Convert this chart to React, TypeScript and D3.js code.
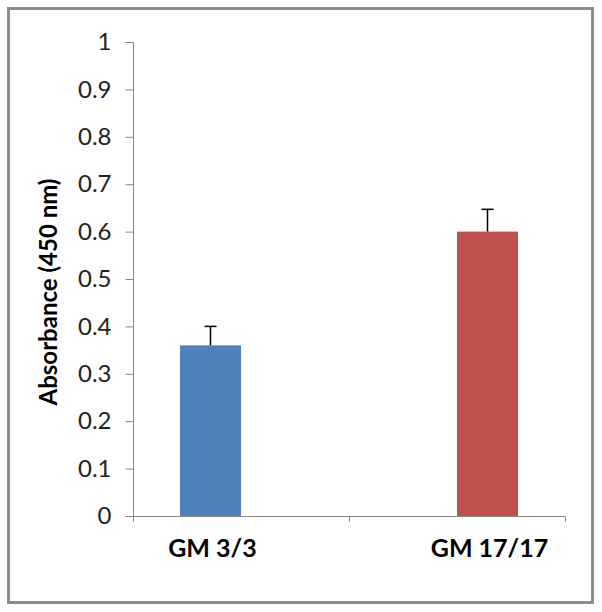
import React, { useEffect, useRef } from 'react';
import * as d3 from 'd3';

const categories = ['GM 3/3', 'GM 17/17'];
const series = ['GM 3/3', 'GM 17/17'];
const values = [0.36, 0.6];
const errors = [0.04, 0.047];
const colors = ['#4f81bd', '#c0504d'];
const yTicks = [0, 0.1, 0.2, 0.3, 0.4, 0.5, 0.6, 0.7, 0.8, 0.9, 1];

const App = () => {
  const ref = useRef<SVGSVGElement>(null);
  const width = 602;
  const height = 612;

  useEffect(() => {
    const svg = d3.select(ref.current);
    svg.selectAll('*').remove();

    const font = 'Lato, "Open Sans", sans-serif';

    // outer frame
    svg.append('rect')
      .attr('x', 8.5).attr('y', 8.5)
      .attr('width', 584).attr('height', 594)
      .attr('fill', 'white')
      .attr('stroke', '#8c8c8c')
      .attr('stroke-width', 3);

    const y = d3.scaleLinear().domain([0, 1]).range([516, 42]);
    const x = d3.scaleBand().domain(categories).range([133, 565]);
    // each series sits in its own slot inside the category
    const xs = d3.scaleBand().domain(series).range([0, x.bandwidth()]).paddingOuter(0.77);

    // y axis
    const yAxis = svg.append('g')
      .attr('transform', 'translate(133.5,0)')
      .call(d3.axisLeft(y).tickValues(yTicks).tickSize(8).tickPadding(14).tickFormat(d3.format('')));
    yAxis.select('.domain').attr('stroke', '#868686').attr('d', `M-8,${y(1) + 0.5}H0V${y(0)}`);
    yAxis.selectAll('line').attr('stroke', '#868686');
    yAxis.selectAll('text')
      .attr('font-family', font)
      .attr('font-size', 24)
      .attr('fill', '#222');

    // x axis
    const xAxis = svg.append('g').attr('transform', `translate(0,${y(0) + 0.5})`);
    xAxis.append('path')
      .attr('d', `M133.5,0H565.5V5`)
      .attr('fill', 'none')
      .attr('stroke', '#868686');
    xAxis.selectAll('.tk')
      .data(categories)
      .enter()
      .append('line')
      .attr('x1', d => (x(d) as number) + 0.5)
      .attr('x2', d => (x(d) as number) + 0.5)
      .attr('y1', 0).attr('y2', 5)
      .attr('stroke', '#868686');

    const bars = svg.append('g');
    categories.forEach((c, i) => {
      const bx = (x(c) as number) + (xs(series[i]) as number);
      const bw = xs.bandwidth();
      const cx = bx + bw / 2;
      bars.append('rect')
        .attr('x', bx).attr('y', y(values[i]))
        .attr('width', bw).attr('height', y(0) - y(values[i]))
        .attr('fill', colors[i]);
      bars.append('line')
        .attr('x1', cx).attr('x2', cx)
        .attr('y1', y(values[i])).attr('y2', y(values[i] + errors[i]))
        .attr('stroke', 'black').attr('stroke-width', 1.5);
      bars.append('line')
        .attr('x1', cx - 6).attr('x2', cx + 6)
        .attr('y1', y(values[i] + errors[i])).attr('y2', y(values[i] + errors[i]))
        .attr('stroke', 'black').attr('stroke-width', 1.5);
      svg.append('text')
        .attr('x', cx + 2).attr('y', 557)
        .attr('text-anchor', 'middle')
        .attr('font-family', font)
        .attr('font-weight', 'bold')
        .attr('font-size', 25)
        .attr('fill', 'black')
        .text(c);
    });

    svg.append('text')
      .attr('transform', 'translate(57,292) rotate(-90)')
      .attr('text-anchor', 'middle')
      .attr('font-family', font)
      .attr('font-weight', 'bold')
      .attr('font-size', 24)
      .attr('fill', 'black')
      .text('Absorbance (450 nm)');
  }, []);

  return (
    <svg ref={ref} width={width} height={height}
      style={{ position: 'absolute', left: 0, top: 0, background: 'white' }} />
  );
};

export default App;
